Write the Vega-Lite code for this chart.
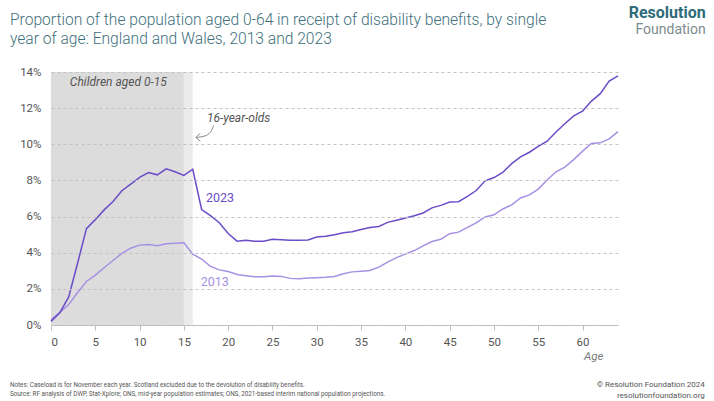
{
  "$schema": "https://vega.github.io/schema/vega-lite/v6.json",
  "width": 567,
  "height": 253,
  "autosize": {"type": "none"},
  "padding": {"left": 51, "top": 72, "right": 96, "bottom": 76},
  "background": "white",
  "config": {"view": {"stroke": null}, "font": "Roboto"},
  "data": {
    "values": [
      {"age": 0, "y2013": 0.28, "y2023": 0.2},
      {"age": 1, "y2013": 0.7, "y2023": 0.68},
      {"age": 2, "y2013": 1.13, "y2023": 1.55},
      {"age": 3, "y2013": 1.8, "y2023": 3.42},
      {"age": 4, "y2013": 2.41, "y2023": 5.33},
      {"age": 5, "y2013": 2.76, "y2023": 5.83},
      {"age": 6, "y2013": 3.17, "y2023": 6.37},
      {"age": 7, "y2013": 3.57, "y2023": 6.83},
      {"age": 8, "y2013": 3.96, "y2023": 7.43},
      {"age": 9, "y2013": 4.25, "y2023": 7.8},
      {"age": 10, "y2013": 4.42, "y2023": 8.17},
      {"age": 11, "y2013": 4.46, "y2023": 8.44},
      {"age": 12, "y2013": 4.39, "y2023": 8.31},
      {"age": 13, "y2013": 4.5, "y2023": 8.64},
      {"age": 14, "y2013": 4.53, "y2023": 8.48},
      {"age": 15, "y2013": 4.55, "y2023": 8.28},
      {"age": 16, "y2013": 3.92, "y2023": 8.62},
      {"age": 17, "y2013": 3.65, "y2023": 6.39},
      {"age": 18, "y2013": 3.24, "y2023": 6.05},
      {"age": 19, "y2013": 3.05, "y2023": 5.66},
      {"age": 20, "y2013": 2.96, "y2023": 5.06},
      {"age": 21, "y2013": 2.8, "y2023": 4.64},
      {"age": 22, "y2013": 2.73, "y2023": 4.69},
      {"age": 23, "y2013": 2.67, "y2023": 4.64},
      {"age": 24, "y2013": 2.67, "y2023": 4.64},
      {"age": 25, "y2013": 2.71, "y2023": 4.74},
      {"age": 26, "y2013": 2.69, "y2023": 4.72},
      {"age": 27, "y2013": 2.58, "y2023": 4.69},
      {"age": 28, "y2013": 2.56, "y2023": 4.69},
      {"age": 29, "y2013": 2.6, "y2023": 4.7},
      {"age": 30, "y2013": 2.62, "y2023": 4.87},
      {"age": 31, "y2013": 2.64, "y2023": 4.91},
      {"age": 32, "y2013": 2.69, "y2023": 5.0},
      {"age": 33, "y2013": 2.84, "y2023": 5.1},
      {"age": 34, "y2013": 2.94, "y2023": 5.16},
      {"age": 35, "y2013": 2.98, "y2023": 5.28},
      {"age": 36, "y2013": 3.02, "y2023": 5.4},
      {"age": 37, "y2013": 3.2, "y2023": 5.45},
      {"age": 38, "y2013": 3.48, "y2023": 5.68},
      {"age": 39, "y2013": 3.73, "y2023": 5.8},
      {"age": 40, "y2013": 3.92, "y2023": 5.92},
      {"age": 41, "y2013": 4.12, "y2023": 6.05},
      {"age": 42, "y2013": 4.38, "y2023": 6.2},
      {"age": 43, "y2013": 4.62, "y2023": 6.48},
      {"age": 44, "y2013": 4.74, "y2023": 6.62},
      {"age": 45, "y2013": 5.05, "y2023": 6.8},
      {"age": 46, "y2013": 5.14, "y2023": 6.82},
      {"age": 47, "y2013": 5.4, "y2023": 7.12},
      {"age": 48, "y2013": 5.65, "y2023": 7.44},
      {"age": 49, "y2013": 5.98, "y2023": 7.98},
      {"age": 50, "y2013": 6.1, "y2023": 8.16},
      {"age": 51, "y2013": 6.42, "y2023": 8.45},
      {"age": 52, "y2013": 6.65, "y2023": 8.93},
      {"age": 53, "y2013": 7.03, "y2023": 9.3},
      {"age": 54, "y2013": 7.2, "y2023": 9.56},
      {"age": 55, "y2013": 7.52, "y2023": 9.89},
      {"age": 56, "y2013": 8.02, "y2023": 10.17},
      {"age": 57, "y2013": 8.48, "y2023": 10.68},
      {"age": 58, "y2013": 8.74, "y2023": 11.14},
      {"age": 59, "y2013": 9.15, "y2023": 11.57},
      {"age": 60, "y2013": 9.62, "y2023": 11.84},
      {"age": 61, "y2013": 10.05, "y2023": 12.39},
      {"age": 62, "y2013": 10.08, "y2023": 12.8},
      {"age": 63, "y2013": 10.3, "y2023": 13.5},
      {"age": 64, "y2013": 10.7, "y2023": 13.79}
    ]
  },
  "layer": [
    {
      "data": {"values": [{}]},
      "mark": {"type": "rect", "color": "#dcdcdc"},
      "encoding": {
        "x": {"datum": 0, "type": "quantitative"},
        "x2": {"datum": 15},
        "y": {"datum": 0, "type": "quantitative"},
        "y2": {"datum": 14}
      }
    },
    {
      "data": {"values": [{}]},
      "mark": {"type": "rect", "color": "#ebebeb"},
      "encoding": {
        "x": {"datum": 15, "type": "quantitative"},
        "x2": {"datum": 16},
        "y": {"datum": 0, "type": "quantitative"},
        "y2": {"datum": 14}
      }
    },
    {
      "transform": [{"fold": ["y2013", "y2023"], "as": ["series", "pct"]}],
      "mark": {"type": "line", "strokeWidth": 1.5},
      "encoding": {
        "x": {"field": "age", "type": "quantitative", "scale": {"domain": [0, 64], "nice": false}, "axis": {"values": [0, 5, 10, 15, 20, 25, 30, 35, 40, 45, 50, 55, 60], "grid": false, "labelFontSize": 11.5, "labelColor": "#555555", "labelPadding": 6, "tickColor": "#bbbbbb", "tickSize": 5, "domainColor": "#bbbbbb", "title": "Age", "titleFontStyle": "italic", "titleFontWeight": "normal", "titleFontSize": 11.5, "titleColor": "#777777", "titleAnchor": "end", "titleAlign": "right", "titleBaseline": "middle", "titleX": 552, "titleY": 31}},
        "y": {"field": "pct", "type": "quantitative", "scale": {"domain": [0, 14], "nice": false}, "axis": {"values": [0, 2, 4, 6, 8, 10, 12, 14], "tickCount": 8, "labelOverlap": false, "labelExpr": "datum.value + '%'", "grid": true, "gridDash": [3, 3], "gridColor": "#c4c4c4", "gridWidth": 1, "domain": false, "ticks": false, "labelFontSize": 11.5, "labelColor": "#555555", "labelPadding": 10, "title": null, "zindex": 1}},
        "color": {"field": "series", "type": "nominal", "scale": {"domain": ["y2013", "y2023"], "range": ["#a690e3", "#6b4cc8"]}, "legend": null}
      }
    },
    {
      "data": {"values": [{}]},
      "mark": {"type": "text", "align": "left", "baseline": "middle", "fontSize": 12.5, "color": "#6b4cc8"},
      "encoding": {"x": {"datum": 17.5, "type": "quantitative"}, "y": {"datum": 7.05, "type": "quantitative"}, "text": {"value": "2023"}}
    },
    {
      "data": {"values": [{}]},
      "mark": {"type": "text", "align": "left", "baseline": "middle", "fontSize": 12.5, "color": "#a690e3"},
      "encoding": {"x": {"datum": 16.9, "type": "quantitative"}, "y": {"datum": 2.4, "type": "quantitative"}, "text": {"value": "2013"}}
    },
    {
      "data": {"values": [{}]},
      "mark": {"type": "text", "align": "center", "baseline": "middle", "fontSize": 12, "fontStyle": "italic", "color": "#555555"},
      "encoding": {"x": {"datum": 7.6, "type": "quantitative"}, "y": {"datum": 13.45, "type": "quantitative"}, "text": {"value": "Children aged 0-15"}}
    },
    {
      "data": {"values": [{}]},
      "mark": {"type": "text", "align": "left", "baseline": "middle", "fontSize": 12, "fontStyle": "italic", "color": "#555555"},
      "encoding": {"x": {"datum": 17.6, "type": "quantitative"}, "y": {"datum": 11.45, "type": "quantitative"}, "text": {"value": "16-year-olds"}}
    },
    {
      "data": {"values": [
        {"i": 0, "ax": 18.35, "ay": 11.05},
        {"i": 1, "ax": 18.05, "ay": 10.62},
        {"i": 2, "ax": 17.3, "ay": 10.42},
        {"i": 3, "ax": 16.35, "ay": 10.38}
      ]},
      "mark": {"type": "line", "interpolate": "basis", "color": "#888888", "strokeWidth": 1},
      "encoding": {"x": {"field": "ax", "type": "quantitative"}, "y": {"field": "ay", "type": "quantitative"}, "order": {"field": "i"}}
    },
    {
      "data": {"values": [
        {"i": 0, "ax": 16.85, "ay": 10.6},
        {"i": 1, "ax": 16.35, "ay": 10.38},
        {"i": 2, "ax": 16.85, "ay": 10.17}
      ]},
      "mark": {"type": "line", "color": "#888888", "strokeWidth": 1},
      "encoding": {"x": {"field": "ax", "type": "quantitative"}, "y": {"field": "ay", "type": "quantitative"}, "order": {"field": "i"}}
    },
    {
      "data": {"values": [{}]},
      "mark": {"type": "text", "align": "left", "baseline": "middle", "fontSize": 15.6, "fontWeight": 300, "color": "#3e6f7c"},
      "encoding": {"x": {"datum": -4.63, "type": "quantitative"}, "y": {"datum": 16.85, "type": "quantitative"}, "text": {"value": "Proportion of the population aged 0-64 in receipt of disability benefits, by single"}}
    },
    {
      "data": {"values": [{}]},
      "mark": {"type": "text", "align": "left", "baseline": "middle", "fontSize": 15.6, "fontWeight": 300, "color": "#3e6f7c"},
      "encoding": {"x": {"datum": -4.63, "type": "quantitative"}, "y": {"datum": 15.85, "type": "quantitative"}, "text": {"value": "year of age: England and Wales, 2013 and 2023"}}
    },
    {
      "data": {"values": [{}]},
      "mark": {"type": "text", "align": "right", "baseline": "middle", "fontSize": 16, "fontWeight": "bold", "color": "#2e6b7b"},
      "encoding": {"x": {"datum": 73.9, "type": "quantitative"}, "y": {"datum": 17.28, "type": "quantitative"}, "text": {"value": "Resolution"}}
    },
    {
      "data": {"values": [{}]},
      "mark": {"type": "text", "align": "right", "baseline": "middle", "fontSize": 14, "color": "#7d8c90"},
      "encoding": {"x": {"datum": 73.9, "type": "quantitative"}, "y": {"datum": 16.3, "type": "quantitative"}, "text": {"value": "Foundation"}}
    },
    {
      "data": {"values": [{}]},
      "mark": {"type": "text", "align": "left", "baseline": "middle", "fontSize": 6.3, "color": "#555555"},
      "encoding": {"x": {"datum": -4.63, "type": "quantitative"}, "y": {"datum": -3.31, "type": "quantitative"}, "text": {"value": "Notes: Caseload is for November each year. Scotland excluded due to the devolution of disability benefits."}}
    },
    {
      "data": {"values": [{}]},
      "mark": {"type": "text", "align": "left", "baseline": "middle", "fontSize": 6.3, "color": "#555555"},
      "encoding": {"x": {"datum": -4.63, "type": "quantitative"}, "y": {"datum": -3.8, "type": "quantitative"}, "text": {"value": "Source: RF analysis of DWP, Stat-Xplore; ONS, mid-year population estimates; ONS, 2021-based interim national population projections."}}
    },
    {
      "data": {"values": [{}]},
      "mark": {"type": "text", "align": "right", "baseline": "middle", "fontSize": 8, "color": "#555555"},
      "encoding": {"x": {"datum": 73.8, "type": "quantitative"}, "y": {"datum": -3.31, "type": "quantitative"}, "text": {"value": "© Resolution Foundation 2024"}}
    },
    {
      "data": {"values": [{}]},
      "mark": {"type": "text", "align": "right", "baseline": "middle", "fontSize": 8, "color": "#555555"},
      "encoding": {"x": {"datum": 73.8, "type": "quantitative"}, "y": {"datum": -3.92, "type": "quantitative"}, "text": {"value": "resolutionfoundation.org"}}
    }
  ]
}
